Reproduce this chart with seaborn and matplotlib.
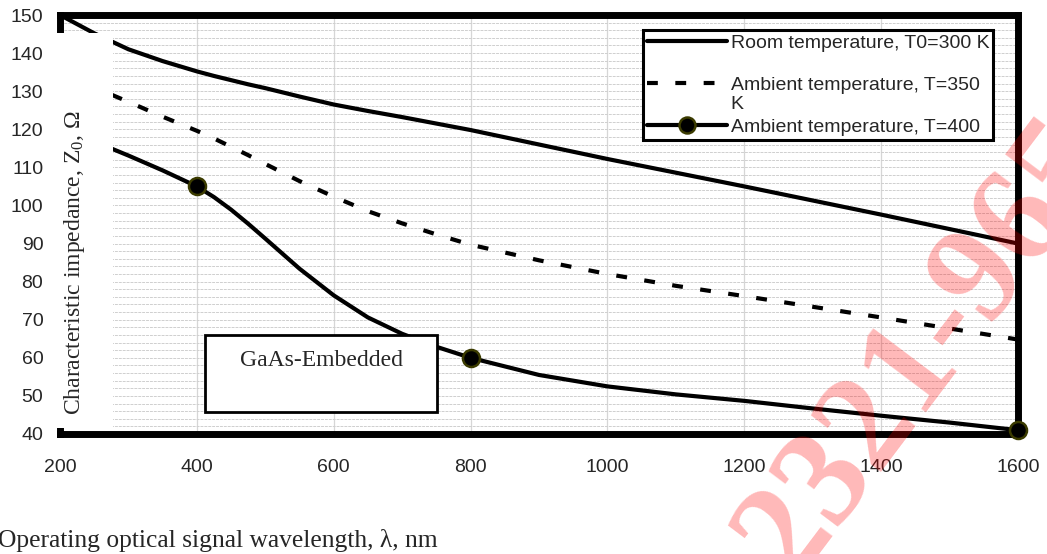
import matplotlib
matplotlib.use("Agg")
import matplotlib.pyplot as plt
import seaborn as sns
import numpy as np
from matplotlib.lines import Line2D
from matplotlib.patches import Rectangle
from matplotlib.ticker import MultipleLocator

# ---- data ----
wavelength = [200, 250, 300, 350, 400, 425, 450, 475, 500, 550, 600, 650, 700, 750, 800,
              900, 1000, 1100, 1200, 1300, 1400, 1500, 1600]
z_room_300 = [150.0, 145.2, 141.0, 137.9, 135.2, 134.0, 132.9, 131.8, 130.8, 128.6, 126.5, 124.8, 123.2, 121.5, 119.8,
              116.0, 112.2, 108.6, 105.0, 101.3, 97.6, 93.8, 90.0]
z_amb_350 = [135.0, 131.0, 127.2, 123.3, 119.6, 117.6, 115.4, 113.2, 110.9, 106.4, 102.3, 98.5, 95.3, 92.4, 89.7,
             85.6, 82.0, 78.9, 76.2, 73.4, 70.6, 67.7, 64.8]
z_amb_400 = [120.0, 116.8, 113.1, 109.2, 105.0, 102.2, 98.9, 95.2, 91.3, 83.4, 76.4, 70.6, 66.3, 62.9, 60.0,
             55.5, 52.5, 50.4, 48.7, 46.7, 44.8, 43.0, 41.0]
marker_wl = [200, 400, 800, 1600]
marker_z400 = [120, 105, 60, 41]

labels = ["Room temperature, T0=300 K",
          "Ambient temperature, T=350",
          "Ambient temperature, T=400"]
label_wrap = "K"
x_ticks = [200, 400, 600, 800, 1000, 1200, 1400, 1600]
y_ticks = [40, 50, 60, 70, 80, 90, 100, 110, 120, 130, 140, 150]

sns.set_style("white")
plt.rcParams["font.family"] = ["Liberation Sans", "DejaVu Sans"]
plt.rcParams["mathtext.fontset"] = "custom"
plt.rcParams["mathtext.rm"] = "Liberation Serif"
plt.rcParams["mathtext.it"] = "Liberation Serif:italic"

W, H = 1047, 554
fig = plt.figure(figsize=(W / 100, H / 100), dpi=100)
ax = fig.add_axes([60 / W, 1 - 434 / H, 958 / W, 419 / H])

LW = 3
dash = (0, (2.6, 4.2))
sns.lineplot(x=wavelength, y=z_room_300, ax=ax, color="black", lw=LW, zorder=3)
sns.lineplot(x=wavelength, y=z_amb_350, ax=ax, color="black", lw=LW, zorder=3)
ax.lines[-1].set_linestyle(dash)
sns.lineplot(x=wavelength, y=z_amb_400, ax=ax, color="black", lw=LW, zorder=3)
for ln in ax.lines:
    ln.set_solid_joinstyle("round")
sns.scatterplot(x=marker_wl, y=marker_z400, ax=ax, s=150, color="black",
                edgecolor="#3b3b00", linewidth=1.8, zorder=6, clip_on=False)

ax.set_xlim(200, 1600)
ax.set_ylim(40, 150)
ax.set_xticks(x_ticks)
ax.set_yticks(y_ticks)
ax.xaxis.set_minor_locator(MultipleLocator(40))
ax.yaxis.set_minor_locator(MultipleLocator(2))
ax.grid(axis="y", which="both", color="#cfcfcf", lw=0.7, ls=(0, (3, 1)), zorder=0)
ax.grid(axis="x", which="major", color="#d6d6d6", lw=0.9, ls="-", zorder=0)
ax.set_axisbelow(True)
ax.tick_params(axis="x", which="both", direction="in", length=5, width=1,
               pad=18, labelsize=14, color="black")
ax.tick_params(axis="y", which="both", length=0, pad=12, labelsize=14)
for sp in ax.spines.values():
    sp.set_linewidth(5)
    sp.set_color("black")
    sp.set_capstyle("projecting")
ax.set_xlabel("")
ax.set_ylabel("")

handles = [
    Line2D([], [], color="black", lw=LW),
    Line2D([], [], color="black", lw=LW, ls=dash),
    Line2D([], [], color="black", lw=LW, marker="o", markersize=11.5,
           markerfacecolor="black", markeredgecolor="#3b3b00", markeredgewidth=1.8),
]
leg = ax.legend(handles, labels, loc="upper right", bbox_to_anchor=(0.974, 0.964),
                frameon=True, fancybox=False, edgecolor="black", framealpha=1,
                handlelength=4.1, handletextpad=0.2, borderpad=0.2,
                labelspacing=1.27, borderaxespad=0,
                prop={"family": "Liberation Sans", "size": 14})
leg.get_frame().set_linewidth(2.2)
leg.set_zorder(8)

# GaAs-Embedded text box
ax.add_patch(Rectangle((145 / 958, (434 - 412) / 419), (437 - 205) / 958, 77 / 419,
                       transform=ax.transAxes, facecolor="white", edgecolor="black",
                       lw=2, zorder=7))
ax.text(180 / 958, (434 - 360) / 419, "GaAs-Embedded", transform=ax.transAxes,
        ha="left", va="center", fontsize=17, family="Liberation Serif", zorder=8)

# y-label box covering the left of the plot
fig.patches.append(Rectangle((48 / W, 1 - 428 / H), 65 / W, 395 / H,
                             transform=fig.transFigure, facecolor="white",
                             edgecolor="none", zorder=10))
fig.text(75 / W, 1 - 263 / H, r"Characteristic impedance, Z$_{\mathrm{0}}$, Ω",
         rotation=90, ha="center", va="center", fontsize=17,
         family="Liberation Serif", zorder=11)

fig.text(-2 / W, 1 - 540 / H, "Operating optical signal wavelength, λ, nm",
         ha="left", va="center", fontsize=18.4, family="Liberation Serif", zorder=11)

# wrapped "K" of the second legend label, placed under its first line
fig.canvas.draw()
tb = leg.get_texts()[1].get_window_extent()
fig.text(tb.x0 / W, (tb.y0 + tb.y1) / 2 / H - 19 / H, label_wrap, ha="left", va="center",
         fontsize=14, family="Liberation Sans", zorder=12)

# watermark
fig.text(926 / W, 1 - 350 / H, "2321-965", rotation=53, rotation_mode="anchor",
         ha="center", va="center", fontsize=100, fontweight="bold",
         family="Liberation Serif", color="red", alpha=0.28, zorder=20)

fig.savefig("out.png", dpi=100)
